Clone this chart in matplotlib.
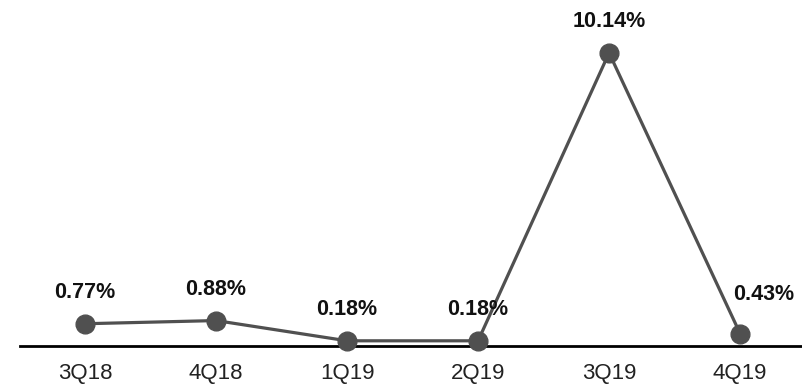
import matplotlib.pyplot as plt

quarters = ['3Q18', '4Q18', '1Q19', '2Q19', '3Q19', '4Q19']
rates = [0.77, 0.88, 0.18, 0.18, 10.14, 0.43]
# label offsets in points (dx, dy) from each marker to the text baseline
label_offsets = [(0, 18.7), (0, 18.7), (0, 18.7), (0, 18.7), (0, 18.7), (17, 24.5)]

plt.rcParams['font.family'] = ['Liberation Sans', 'DejaVu Sans']

fig = plt.figure(figsize=(8.03, 3.86), dpi=100)
ax = fig.add_axes([20 / 803, 40 / 386, 783 / 803, 346 / 386])

x = list(range(len(quarters)))
ax.plot(x, rates, color='#505050', linewidth=2.3, marker='o',
        markersize=13.5, zorder=3, clip_on=False)

for xi, val, (dx, dy) in zip(x, rates, label_offsets):
    ax.annotate('{:.2f}%'.format(val), (xi, val), xytext=(dx, dy),
                textcoords='offset points', ha='center', va='baseline',
                fontsize=15.5, fontweight='bold', color='#111111')

ax.set_xlim(-0.496, 5.48)
ax.set_ylim(0, 11.97)
ax.set_xticks(x)
ax.set_xticklabels(quarters, fontsize=16, color='#222222')
ax.tick_params(axis='x', length=0, pad=12.5)
ax.set_yticks([])
for side in ['top', 'right', 'left']:
    ax.spines[side].set_visible(False)
ax.spines['bottom'].set_linewidth(2)
ax.spines['bottom'].set_color('black')
ax.spines['bottom'].set_zorder(2)

fig.savefig('out.png', dpi=100)
